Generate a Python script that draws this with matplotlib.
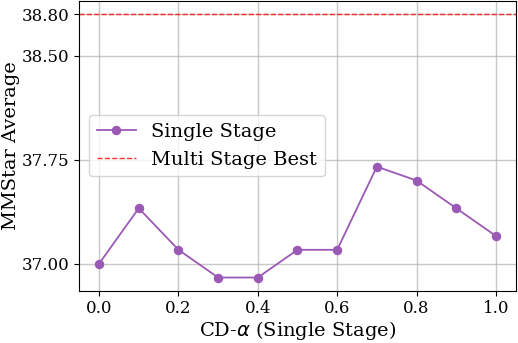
import matplotlib
matplotlib.use("Agg")
import matplotlib.pyplot as plt

alphas = [0.0, 0.1, 0.2, 0.3, 0.4, 0.5, 0.6, 0.7, 0.8, 0.9, 1.0]
single_stage = [37.00, 37.40, 37.10, 36.90, 36.90, 37.10, 37.10, 37.70, 37.60, 37.40, 37.20]
multi_stage_best = 38.80
yticks = [37.00, 37.75, 38.50, 38.80]

plt.rcParams['font.family'] = ['DejaVu Serif']
fig = plt.figure(figsize=(5.18, 3.43), dpi=100)
ax = fig.add_axes([0.153, 0.1525, 0.8426, 0.8445])
ax.plot(alphas, single_stage, marker='o', color='#9b59b6', markersize=5.8, linewidth=1.3, label='Single Stage')
ax.axhline(multi_stage_best, color='red', linestyle='--', linewidth=1, alpha=0.8, label='Multi Stage Best')
ax.set_xlim(-0.05, 1.05)
ax.set_ylim(36.805, 38.895)
ax.set_yticks(yticks)
ax.set_yticklabels([f"{v:.2f}" for v in yticks])
ax.set_xticks([0.0, 0.2, 0.4, 0.6, 0.8, 1.0])
ax.tick_params(labelsize=12)
ax.grid(True, color='#b0b0b0', linewidth=1, alpha=0.7)
ax.set_xlabel(r'CD-$\alpha$ (Single Stage)', fontsize=14, labelpad=1)
ax.set_ylabel('MMStar Average', fontsize=14, labelpad=1)
ax.legend(loc='center left', fontsize=14)
fig.savefig('out.png', dpi=100)
